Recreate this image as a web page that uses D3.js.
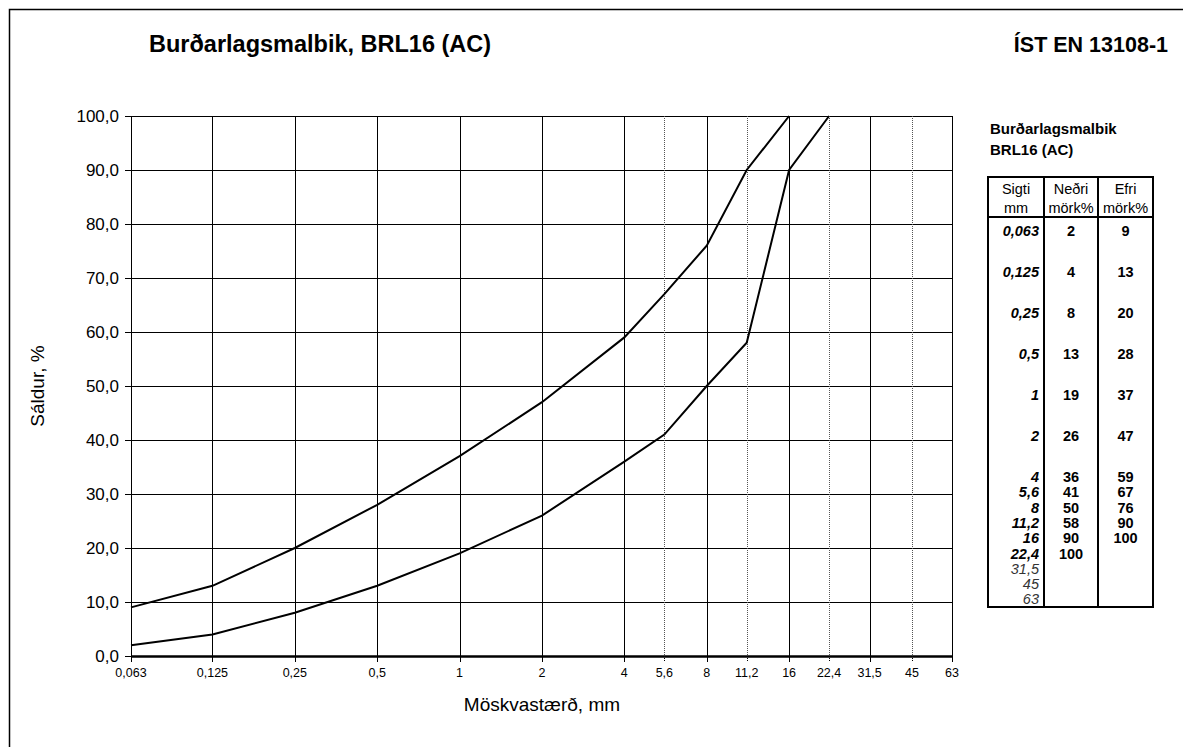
<!DOCTYPE html>
<html>
<head>
<meta charset="utf-8">
<script src="https://cdn.jsdelivr.net/npm/d3@7"></script>
<style>
body { margin: 0; background: #fff; }
svg { font-family: "Liberation Sans", Arial, sans-serif; }
</style>
</head>
<body>
<svg id="chart" width="1183" height="747"></svg>
<script>
// sieve sizes (mm) and grading limits (%)
var sieves = [0.063, 0.125, 0.25, 0.5, 1, 2, 4, 5.6, 8, 11.2, 16, 22.4, 31.5, 45, 63];
var sieveLabels = ["0,063", "0,125", "0,25", "0,5", "1", "2", "4", "5,6", "8", "11,2", "16", "22,4", "31,5", "45", "63"];
var dottedSieves = [5.6, 11.2, 22.4, 45];
var lowerLimit = [2, 4, 8, 13, 19, 26, 36, 41, 50, 58, 90, 100];   // Neðri mörk
var upperLimit = [9, 13, 20, 28, 37, 47, 59, 67, 76, 90, 100];     // Efri mörk
var yTicks = [0, 10, 20, 30, 40, 50, 60, 70, 80, 90, 100];

var svg = d3.select("#chart");
var plotL = 131, plotR = 952, plotT = 116, plotB = 656;

var x = d3.scaleLog().base(2).domain([0.063, 63]).range([plotL, plotR]);
var y = d3.scaleLinear().domain([0, 100]).range([plotB, plotT]);

// outer frame
svg.append("rect").attr("x", 9.5).attr("y", 9.5).attr("width", 1190).attr("height", 760)
  .attr("fill", "none").attr("stroke", "#000").attr("stroke-width", 1.5);

// titles
svg.append("text").attr("x", 149).attr("y", 52).attr("font-size", 23.5).attr("font-weight", "bold")
  .text("Burðarlagsmalbik, BRL16 (AC)");
svg.append("text").attr("x", 1168).attr("y", 52).attr("font-size", 21.5).attr("font-weight", "bold")
  .attr("text-anchor", "end").text("ÍST EN 13108-1");

// horizontal grid
svg.append("g").selectAll("line").data(yTicks).enter().append("line")
  .attr("x1", plotL - 6).attr("x2", plotR)
  .attr("y1", function(d) { return y(d) + 0.5; }).attr("y2", function(d) { return y(d) + 0.5; })
  .attr("stroke", "#000").attr("stroke-width", 1);

// vertical grid
svg.append("g").selectAll("line").data(sieves).enter().append("line")
  .attr("x1", function(d) { return Math.round(x(d)) + 0.5; })
  .attr("x2", function(d) { return Math.round(x(d)) + 0.5; })
  .attr("y1", plotT).attr("y2", function(d) { return dottedSieves.indexOf(d) >= 0 ? plotB : plotB + 6; })
  .attr("stroke", function(d) { return dottedSieves.indexOf(d) >= 0 ? "#555" : "#000"; })
  .attr("stroke-dasharray", function(d) { return dottedSieves.indexOf(d) >= 0 ? "1,1" : null; })
  .attr("stroke-width", 1);

// dotted ticks below axis too
svg.append("g").selectAll("line").data(dottedSieves).enter().append("line")
  .attr("x1", function(d) { return Math.round(x(d)) + 0.5; })
  .attr("x2", function(d) { return Math.round(x(d)) + 0.5; })
  .attr("y1", plotB).attr("y2", plotB + 6)
  .attr("stroke", "#000").attr("stroke-width", 1).attr("stroke-dasharray", "1,1");

// bottom axis line
svg.append("line").attr("x1", plotL).attr("x2", plotR + 1).attr("y1", plotB + 0.5).attr("y2", plotB + 0.5)
  .attr("stroke", "#000").attr("stroke-width", 2.5);

// y tick labels
svg.append("g").selectAll("text").data(yTicks).enter().append("text")
  .attr("x", plotL - 12).attr("y", function(d) { return y(d) + 6; })
  .attr("text-anchor", "end").attr("font-size", 17)
  .text(function(d) { return d3.format(".1f")(d).replace(".", ","); });

// x tick labels
svg.append("g").selectAll("text").data(sieves).enter().append("text")
  .attr("x", function(d) { return x(d); }).attr("y", plotB + 21)
  .attr("text-anchor", "middle").attr("font-size", 12.5)
  .text(function(d, i) { return sieveLabels[i]; });

// axis titles
svg.append("text").attr("transform", "translate(44," + y(50) + ") rotate(-90)")
  .attr("text-anchor", "middle").attr("font-size", 19).text("Sáldur, %");
svg.append("text").attr("x", x(2)).attr("y", 711).attr("text-anchor", "middle")
  .attr("font-size", 19).text("Möskvastærð, mm");

// grading curves
var line = d3.line().x(function(d) { return x(d[0]); }).y(function(d) { return y(d[1]); });
[lowerLimit, upperLimit].forEach(function(vals) {
  var pts = vals.map(function(v, i) { return [sieves[i], v]; });
  svg.append("path").attr("d", line(pts)).attr("fill", "none")
    .attr("stroke", "#000").attr("stroke-width", 2);
});

// side panel
svg.append("text").attr("x", 990).attr("y", 134).attr("font-size", 15).attr("font-weight", "bold")
  .text("Burðarlagsmalbik");
svg.append("text").attr("x", 990).attr("y", 155).attr("font-size", 15).attr("font-weight", "bold")
  .text("BRL16 (AC)");

var tx = [988, 1044, 1098, 1153];
var tTop = 177, tHead = 217, tBot = 607;
var tbl = svg.append("g");
tbl.append("rect").attr("x", tx[0]).attr("y", tTop).attr("width", tx[3] - tx[0]).attr("height", tBot - tTop)
  .attr("fill", "none").attr("stroke", "#000").attr("stroke-width", 2);
[tx[1], tx[2]].forEach(function(cx) {
  tbl.append("line").attr("x1", cx).attr("x2", cx).attr("y1", tTop).attr("y2", tBot)
    .attr("stroke", "#000").attr("stroke-width", 2);
});
tbl.append("line").attr("x1", tx[0]).attr("x2", tx[3]).attr("y1", tHead).attr("y2", tHead)
  .attr("stroke", "#000").attr("stroke-width", 2);

var heads = [["Sigti", "mm"], ["Neðri", "mörk%"], ["Efri", "mörk%"]];
heads.forEach(function(h, c) {
  var cx = (tx[c] + tx[c + 1]) / 2;
  tbl.append("text").attr("x", cx).attr("y", 194).attr("text-anchor", "middle").attr("font-size", 14.5).text(h[0]);
  tbl.append("text").attr("x", cx).attr("y", 213).attr("text-anchor", "middle").attr("font-size", 14.5).text(h[1]);
});

function rowY(i) { return i <= 6 ? 236 + i * 41 : 482 + (i - 6) * 15.3; }

sieves.forEach(function(s, i) {
  var ry = rowY(i);
  var faint = i > 11;
  tbl.append("text").attr("x", tx[1] - 5).attr("y", ry).attr("text-anchor", "end")
    .attr("font-size", 14.5).attr("font-style", "italic")
    .attr("font-weight", faint ? "normal" : "bold").attr("fill", faint ? "#333" : "#000")
    .text(sieveLabels[i]);
  if (i < lowerLimit.length)
    tbl.append("text").attr("x", (tx[1] + tx[2]) / 2).attr("y", ry).attr("text-anchor", "middle")
      .attr("font-size", 14.5).attr("font-weight", "bold").text(lowerLimit[i]);
  if (i < upperLimit.length)
    tbl.append("text").attr("x", (tx[2] + tx[3]) / 2).attr("y", ry).attr("text-anchor", "middle")
      .attr("font-size", 14.5).attr("font-weight", "bold").text(upperLimit[i]);
});
</script>
</body>
</html>
